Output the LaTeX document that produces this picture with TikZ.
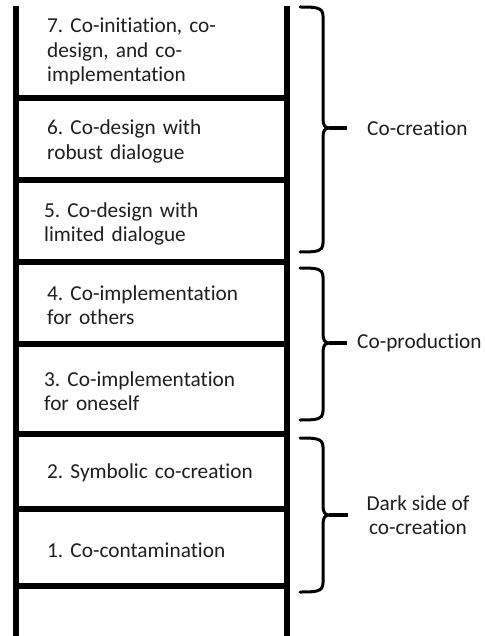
\documentclass[tikz,border=0pt]{standalone}
\usepackage{fontspec}
\setmainfont{Carlito}[Ligatures={NoCommon}]
\frenchspacing
\newcommand\ladderbrace[4]{% name, top, mid, bottom
  \draw[bracestyle] (300,#2) .. controls (315,#2) and (323,#2) .. (323,{#2+9})
    -- (323,{#3-9}) .. controls (323,{#3-3}) and (325,#3) .. (329,#3)
    .. controls (325,#3) and (323,{#3+3}) .. (323,{#3+9})
    -- (323,{#4-9}) .. controls (323,#4) and (315,#4) .. (300,#4);
  \coordinate (#1) at (329,#3);
}
\begin{document}
\begin{tikzpicture}[x=1pt,y=-1pt,
  rail/.style={line width=6pt, line cap=butt},
  rung/.style={line width=6.5pt, line cap=butt},
  bracestyle/.style={line width=3pt, line cap=round, line join=round},
  tick/.style={line width=3.5pt},
  celltext/.style={anchor=base west, inner sep=0pt, text width=250pt, align=left,
    font=\fontsize{21.3}{24.5}\selectfont, text=black!88},
  grouplabel/.style={inner sep=0pt, align=center,
    font=\fontsize{21.3}{24.5}\selectfont, text=black!88}]
\useasboundingbox (0,0) rectangle (484,636);
\fill[white] (0,0) rectangle (484,636);
% rails
\coordinate (lt) at (16,6); \coordinate (lb) at (16,636);
\coordinate (rt) at (287,6); \coordinate (rb) at (287,636);
\draw[rail] (lt) -- (lb);
\draw[rail] (rt) -- (rb);
% rungs
\foreach \y in {98,180,262,344,434,509,586}
  \draw[rung] (16,\y) -- (287,\y);
% cell texts
\node[celltext] (c7) at (47,33) {7. Co-initiation, co-\\design, and co-\\implementation};
\node[celltext] (c6) at (47,135) {6. Co-design with\\robust dialogue};
\node[celltext] (c5) at (44,217) {5. Co-design with\\limited dialogue};
\node[celltext] (c4) at (47,300) {4. Co-implementation\\for others};
\node[celltext] (c3) at (44,386) {3. Co-implementation\\for oneself};
\node[celltext] (c2) at (47,478) {2. Symbolic co-creation};
\node[celltext] (c1) at (47,557) {1. Co-contamination};
% group labels
\node[grouplabel, anchor=west] (g1) at (367,128) {Co-creation};
\node[grouplabel, anchor=west] (g2) at (357,343) {Co-production};
\node[grouplabel] (g3) at (418,515) {Dark side of\\co-creation};
% braces
\ladderbrace{b1}{7}{128}{252}
\ladderbrace{b2}{268}{343}{420}
\ladderbrace{b3}{438}{515}{592}
\draw[tick] (b1) -- ([xshift=-20pt]g1.west);
\draw[tick] (b2) -- ([xshift=-10pt]g2.west);
\draw[tick] (b3) -- (348,515);
\end{tikzpicture}
\end{document}
